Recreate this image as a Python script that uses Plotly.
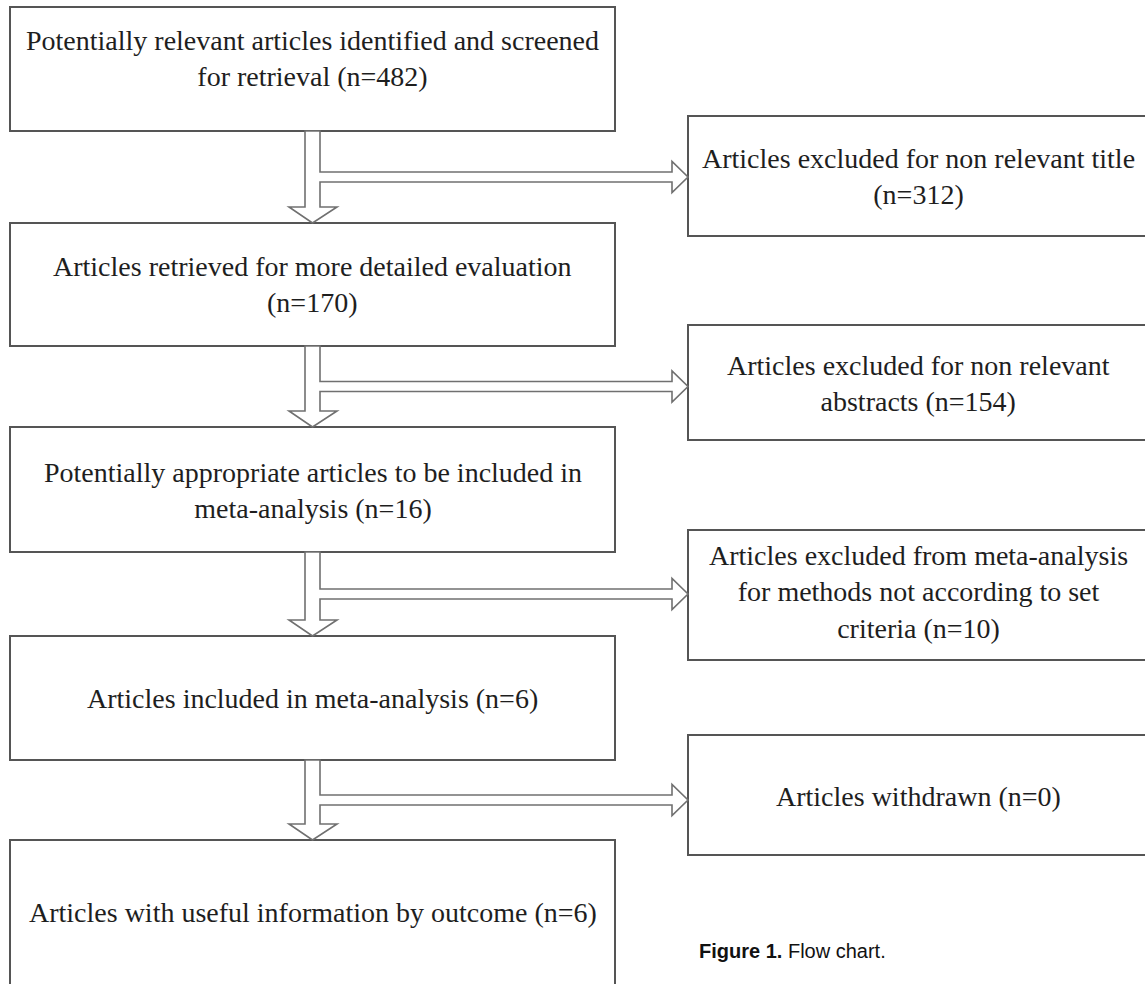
import plotly.graph_objects as go

# ---- data ----
left_templates = [
    "Potentially relevant articles identified and screened<br>for retrieval (n={n})",
    "Articles retrieved for more detailed evaluation<br>(n={n})",
    "Potentially appropriate articles to be included in<br>meta-analysis (n={n})",
    "Articles included in meta-analysis (n={n})",
    "Articles with useful information by outcome (n={n})",
]
left_counts = [482, 170, 16, 6, 6]

right_templates = [
    "Articles excluded for non relevant title<br>(n={n})",
    "Articles excluded for non relevant<br>abstracts (n={n})",
    "Articles excluded from meta-analysis<br>for methods not according to set<br>criteria (n={n})",
    "Articles withdrawn (n={n})",
]
right_counts = [312, 154, 10, 0]

caption_bold = "Figure 1."
caption_text = "Flow chart."

# ---- layout geometry (pixels) ----
W, H = 1145, 984
LX0, LX1 = 10, 615
left_y = [(7, 131), (223, 346), (427, 552), (636, 760), (840, 1000)]
left_text_y = [58, 284, 490, 698, 912]
RX0, RX1 = 688, 1150
right_y = [(116, 236), (325, 440), (530, 660), (735, 855)]
right_text_y = [176, 383, 592, 796]
SX0, SX1 = 305, 320          # shaft
HX0, HX1 = 289, 337          # down head
HEAD_H = 16
BR_HALF = 5
BR_HEAD_HALF = 15.5
BR_HEAD_L = 16

BOX_COLOR = "#555555"
ARROW_COLOR = "#707070"
TEXT_COLOR = "#1e1e1e"
FONT = "Liberation Serif"

fig = go.Figure()
fig.add_trace(go.Scatter(x=[0, W], y=[0, H], mode="markers",
                         marker=dict(opacity=0), hoverinfo="skip", showlegend=False))

shapes = []
annotations = []

for (y0, y1), ty, tpl, n in zip(left_y, left_text_y, left_templates, left_counts):
    shapes.append(dict(type="rect", x0=LX0, x1=LX1, y0=y0, y1=y1,
                       line=dict(color=BOX_COLOR, width=2), fillcolor="white", layer="below"))
    annotations.append(dict(x=(LX0 + LX1) / 2, y=ty, text=tpl.format(n=n),
                            showarrow=False, xanchor="center", yanchor="middle",
                            font=dict(family=FONT, size=28, color=TEXT_COLOR)))

for (y0, y1), ty, tpl, n in zip(right_y, right_text_y, right_templates, right_counts):
    shapes.append(dict(type="rect", x0=RX0, x1=RX1, y0=y0, y1=y1,
                       line=dict(color=BOX_COLOR, width=2), fillcolor="white", layer="below"))
    annotations.append(dict(x=918, y=ty, text=tpl.format(n=n),
                            showarrow=False, xanchor="center", yanchor="middle",
                            font=dict(family=FONT, size=28, color=TEXT_COLOR)))

for i in range(len(left_y) - 1):
    top = left_y[i][1]
    bot = left_y[i + 1][0]
    c = (top + bot) / 2
    hs = bot - HEAD_H
    mid = (SX0 + SX1) / 2
    tipx = RX0
    hx = tipx - BR_HEAD_L
    pts = [(SX0, top), (SX1, top), (SX1, c - BR_HALF), (hx, c - BR_HALF),
           (hx, c - BR_HEAD_HALF), (tipx, c), (hx, c + BR_HEAD_HALF),
           (hx, c + BR_HALF), (SX1, c + BR_HALF), (SX1, hs), (HX1, hs),
           (mid, bot), (HX0, hs), (SX0, hs)]
    path = "M " + " L ".join(f"{x},{y}" for x, y in pts) + " Z"
    shapes.append(dict(type="path", path=path, line=dict(color=ARROW_COLOR, width=1.6),
                       fillcolor="white", layer="above"))

annotations.append(dict(x=697, y=951, text=f"<b>{caption_bold}</b> {caption_text}",
                        showarrow=False, xanchor="left", yanchor="middle",
                        font=dict(family="Liberation Sans", size=20, color="#111111")))

fig.update_layout(
    width=W, height=H, margin=dict(l=0, r=0, t=0, b=0),
    paper_bgcolor="white", plot_bgcolor="white",
    xaxis=dict(range=[0, W], visible=False, fixedrange=True),
    yaxis=dict(range=[H, 0], visible=False, fixedrange=True),
    shapes=shapes, annotations=annotations, showlegend=False,
)

fig.write_html("out.html", config={"displayModeBar": False},
               post_script="document.body.style.margin='0';document.body.style.overflow='hidden';")
